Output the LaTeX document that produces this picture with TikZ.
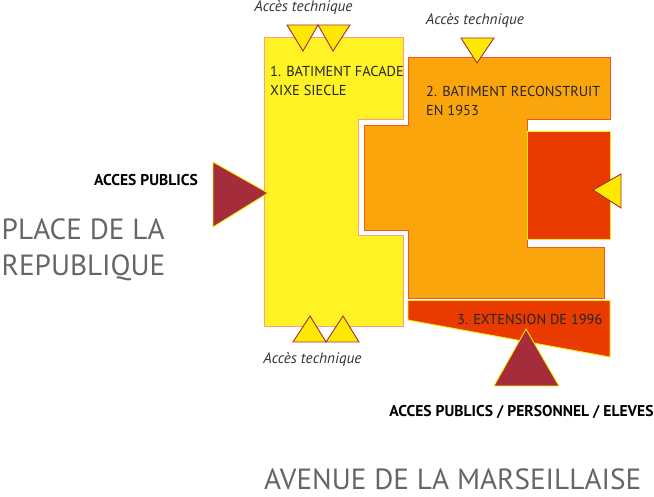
\documentclass[tikz,border=0pt]{standalone}
\usepackage{fontspec}
\setmainfont{PT Sans}
\definecolor{facade}{HTML}{FFF225}
\definecolor{rebuilt}{HTML}{FBA50D}
\definecolor{extension}{HTML}{E93A00}
\definecolor{access}{HTML}{A42C3B}
\definecolor{techfill}{HTML}{FFE900}
\definecolor{facadeline}{HTML}{FF9A80}
\definecolor{rebuiltline}{HTML}{F4581E}

\begin{document}
\begin{tikzpicture}[x=1pt,y=-1pt,
    building/.style={draw=#1,line width=1pt,line join=miter},
    tech/.style={fill=techfill,draw=access,line width=0.9pt,line join=miter},
    public/.style={fill=access,draw=techfill,line width=0.9pt,line join=miter},
    label/.style={inner sep=0pt,anchor=west,text=black!85,font=\fontsize{14.4}{19}\selectfont,align=left},
    techlabel/.style={inner sep=0pt,text=black!80,font=\fontsize{15.2}{15}\selectfont\itshape},
    publiclabel/.style={inner sep=0pt,text=black,font=\fontsize{15.6}{15}\selectfont\bfseries},
    street/.style={inner sep=0pt,anchor=west,text=black!60,font=\fontsize{29.2}{36}\selectfont,align=left}]
    \useasboundingbox (0,0) rectangle (654,497);

    % buildings
    \fill[facade,building=facadeline] (264,38) -- (403,38) -- (403,120) -- (358,120) -- (358,236)
        -- (403,236) -- (403,327) -- (264,327) -- cycle;
    \fill[rebuilt,building=rebuiltline] (408,58) -- (610,58) -- (610,120) -- (527,120) -- (527,248) -- (604,248)
        -- (604,299) -- (408,299) -- (408,231) -- (364,231) -- (364,126) -- (408,126) -- cycle;
    \fill[extension,draw=techfill,line width=0.9pt] (527,131.5) rectangle (610,239);
    \fill[extension,draw=techfill,line width=0.9pt] (408,300.5) -- (610,300.5) -- (610,357) -- (408,320) -- cycle;

    % service entrances
    \foreach \xa/\ya/\xb/\yb/\xc/\yc in {287/25/318/25/303/51, 318/25/350/25/333/51, 461/38/494/38/477/63,
        621/174/621/208/593/190, 293/342/326/342/310/316, 326/342/359/342/343/316} {
        \draw[tech] (\xa,\ya) -- (\xb,\yb) -- (\xc,\yc) -- cycle;
    }

    % public entrances
    \foreach \xa/\ya/\xb/\yb/\xc/\yc in {213/162/213/227/268/193, 494/386/559/386/526/329} {
        \draw[public] (\xa,\ya) -- (\xb,\yb) -- (\xc,\yc) -- cycle;
    }

    \node[label] (facade) at (270,80.5) {1. BATIMENT FACADE\\XIXE SIECLE};
    \node[label] (rebuilt) at (426,100.5) {2. BATIMENT RECONSTRUIT\\EN 1953};
    \node[label] (extension) at (457,319) {3. EXTENSION DE 1996};

    \node[techlabel] (techa) at (303.5,8) {Accès technique};
    \node[techlabel] (techb) at (475,21) {Accès technique};
    \node[techlabel] (techc) at (312.5,360) {Accès technique};

    \node[publiclabel] (publica) at (146,180) {ACCES PUBLICS};
    \node[publiclabel] (publicb) at (521.5,412) {ACCES PUBLICS / PERSONNEL / ELEVES};

    \node[street] (place) at (1.5,250) {PLACE DE LA\\REPUBLIQUE};
    \node[street] (avenue) at (264,479) {AVENUE DE LA MARSEILLAISE};
\end{tikzpicture}
\end{document}
